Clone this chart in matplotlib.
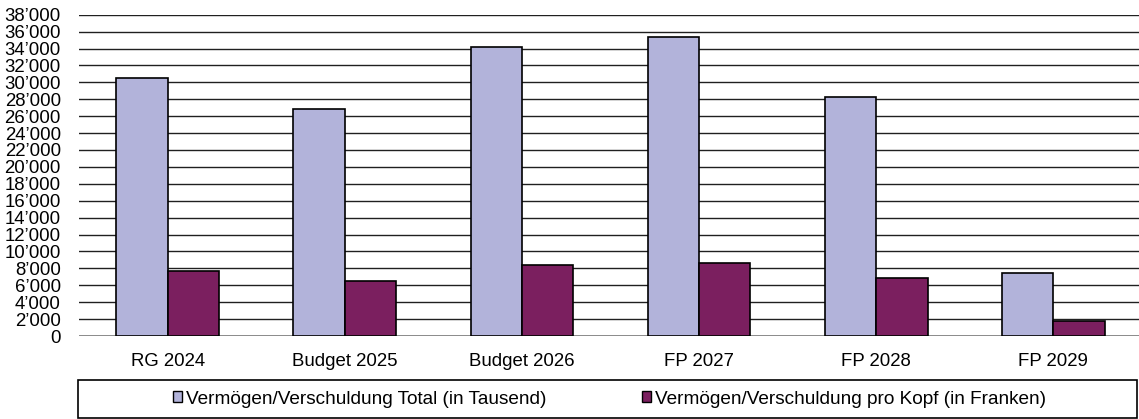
import matplotlib
matplotlib.use("Agg")
import matplotlib.pyplot as plt
from matplotlib.patches import Rectangle
from matplotlib.ticker import FuncFormatter, MultipleLocator
import numpy as np

categories = ["RG 2024", "Budget 2025", "Budget 2026", "FP 2027", "FP 2028", "FP 2029"]
total_tausend = [30550, 26800, 34150, 35400, 28300, 7500]
pro_kopf = [7700, 6550, 8450, 8650, 6900, 1800]
series_names = ["Vermögen/Verschuldung Total (in Tausend)",
                "Vermögen/Verschuldung pro Kopf (in Franken)"]
y_max = 38000
y_step = 2000

plt.rcParams['font.family'] = ['Liberation Sans', 'DejaVu Sans']

W, H = 1139, 419
fig = plt.figure(figsize=(W / 100, H / 100), dpi=100)
ax = fig.add_axes([79 / W, 1 - 336 / H, (1142 - 79) / W, (336 - 14.7) / H])

x = np.arange(len(categories))
bw = 0.29
c1 = "#B2B3DA"
c2 = "#7B1F5F"
ax.bar(x - bw / 2, total_tausend, bw, color=c1, edgecolor="black", linewidth=1.2, zorder=3,
       label=series_names[0])
ax.bar(x + bw / 2, pro_kopf, bw, color=c2, edgecolor="black", linewidth=1.2, zorder=3,
       label=series_names[1])

ax.set_xlim(-0.5, len(categories) - 0.5)
ax.set_ylim(0, y_max)
ax.yaxis.set_major_locator(MultipleLocator(y_step))
ax.yaxis.set_major_formatter(FuncFormatter(lambda v, p: f"{int(v):,}".replace(",", "\u2019")))
ax.grid(axis="y", color="#202020", linewidth=1.0, zorder=0)
ax.set_axisbelow(True)
for s in ax.spines.values():
    s.set_visible(False)
ax.axhline(0, color="#808080", linewidth=1.2, zorder=1)
ax.set_xticks(x)
ax.set_xticklabels(categories)
ax.tick_params(axis="both", length=0, labelsize=13.4, colors="black")
ax.tick_params(axis="y", pad=13)
ax.tick_params(axis="x", pad=12)

# legend box
rect = Rectangle((78 / W, 1 - 418 / H), (1137 - 78) / W, (418 - 380) / H,
                 transform=fig.transFigure, facecolor="white", edgecolor="black",
                 linewidth=1.2)
fig.patches.append(rect)
handles, labels = ax.get_legend_handles_labels()
leg = fig.legend(handles, labels, loc="center", ncol=2,
                 bbox_to_anchor=((78 + 1137) / 2 / W + 2 / W, 1 - 399 / H),
                 frameon=False, fontsize=13.7, handlelength=0.5, handleheight=0.5,
                 handletextpad=0.2, columnspacing=5.0)
for h in leg.legend_handles:
    h.set_linewidth(1.0)

fig.savefig("out.png", dpi=100)
